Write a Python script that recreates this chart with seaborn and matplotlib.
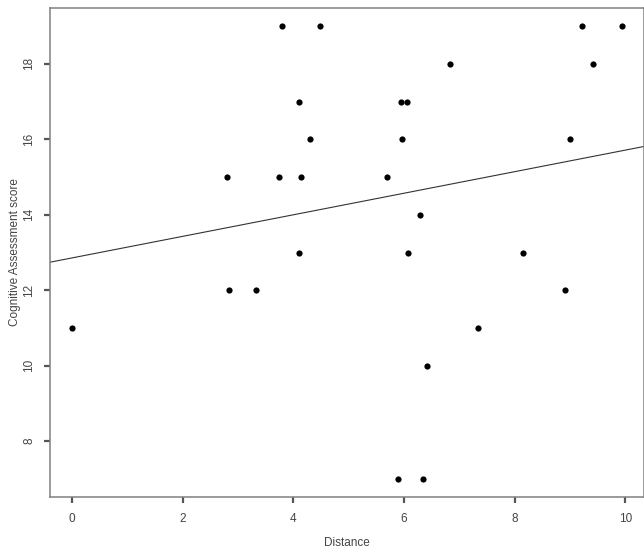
import numpy as np
import pandas as pd
import matplotlib
matplotlib.use("Agg")
import matplotlib.pyplot as plt
import seaborn as sns

distance = [0.00, 2.81, 2.84, 3.32, 3.74, 3.79, 4.10, 4.11, 4.14, 4.30,
            4.48, 5.69, 5.90, 5.94, 5.96, 6.05, 6.07, 6.29, 6.34,
            6.42, 6.83, 7.33, 8.15, 8.91, 9.00, 9.21, 9.41, 9.93]
score = [11, 15, 12, 12, 15, 19, 17, 13, 15, 16,
         19, 15, 7, 17, 16, 17, 13, 14, 7,
         10, 18, 11, 13, 12, 16, 19, 18, 19]
x_ticks = [0, 2, 4, 6, 8, 10]
y_ticks = [8, 10, 12, 14, 16, 18]

df = pd.DataFrame({"Distance": distance, "Score": score})

sns.set_style("ticks")
plt.rcParams["font.family"] = ["Liberation Sans", "DejaVu Sans"]

fig = plt.figure(figsize=(6.44, 5.58), dpi=100)
ax = fig.add_axes([50 / 644, 1 - 497 / 558, 593.5 / 644, 489 / 558])

xr = max(distance) - min(distance)
yr = max(score) - min(score)
ax.set_xlim(min(distance) - 0.04 * xr, max(distance) + 0.04 * xr)
ax.set_ylim(min(score) - 0.04 * yr, max(score) + 0.04 * yr)

sns.regplot(data=df, x="Distance", y="Score", ax=ax, ci=None, truncate=False,
            scatter_kws=dict(s=20, color="black", linewidths=0, alpha=1),
            line_kws=dict(color="#333333", lw=0.8))

ax.set_xticks(x_ticks)
ax.set_yticks(y_ticks)
ax.set_yticklabels([str(t) for t in y_ticks], rotation=90, va="center")
ax.tick_params(axis="both", which="major", direction="out", length=4.5, width=1.6,
               color="#555555", labelcolor="#444444", labelsize=8.5,
               bottom=True, left=True)
ax.tick_params(axis="x", pad=7)
ax.tick_params(axis="y", pad=6)
for s in ax.spines.values():
    s.set_color("#808080")
    s.set_linewidth(1.1)
    s.set_visible(True)

ax.set_xlabel("Distance", fontsize=8.5, color="#444444", va="center")
ax.set_ylabel("Cognitive Assessment score", fontsize=8.5, color="#444444", va="center")
ax.xaxis.set_label_coords(297 / 593.5, (497 - 543) / 489)
ax.yaxis.set_label_coords((15 - 50) / 593.5, 0.5)

fig.savefig("out.png", dpi=100, facecolor="white")
